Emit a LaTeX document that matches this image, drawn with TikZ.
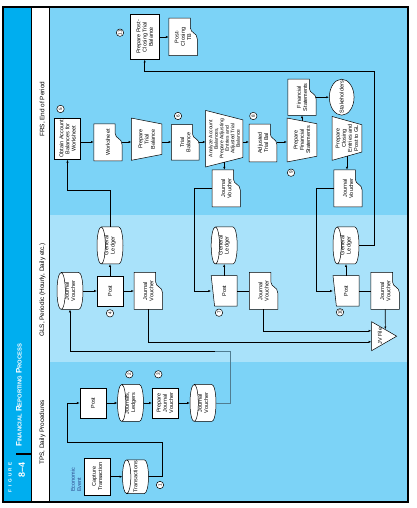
\documentclass[tikz,border=0pt]{standalone}
\usepackage{fontspec}
\setmainfont{Liberation Sans}
\usepackage{xcolor}
\usepackage{tikz}
\usetikzlibrary{calc, arrows.meta, shapes.geometric}

% flowchart symbols built on the rectangle anchors
\makeatletter
\def\flow@corners{%
  \southwest \edef\flow@xa{\the\pgf@x}\edef\flow@ya{\the\pgf@y}%
  \northeast \edef\flow@xb{\the\pgf@x}\edef\flow@yb{\the\pgf@y}}
\def\flowpt#1#2{\pgfpoint{\flow@xa+(#1)*(\flow@xb-(\flow@xa))}{\flow@ya+(#2)*(\flow@yb-(\flow@ya))}}
\def\flow@inset{.14}
\newcommand\flowshape[2]{%
  \pgfdeclareshape{#1}{%
    \inheritsavedanchors[from=rectangle]%
    \inheritanchorborder[from=rectangle]%
    \inheritanchor[from=rectangle]{center}%
    \inheritanchor[from=rectangle]{north}%
    \inheritanchor[from=rectangle]{south}%
    \inheritanchor[from=rectangle]{east}%
    \inheritanchor[from=rectangle]{west}%
    \inheritanchor[from=rectangle]{north east}%
    \inheritanchor[from=rectangle]{north west}%
    \inheritanchor[from=rectangle]{south east}%
    \inheritanchor[from=rectangle]{south west}%
    \backgroundpath{\flow@corners#2}}}
% document: wavy bottom, deep on the left
\flowshape{docshape}{%
  \pgfpathmoveto{\flowpt{0}{0}}%
  \pgfpathlineto{\flowpt{0}{1}}%
  \pgfpathlineto{\flowpt{1}{1}}%
  \pgfpathlineto{\flowpt{1}{.24}}%
  \pgfpathlineto{\flowpt{.74}{.24}}%
  \pgfpathcurveto{\flowpt{.6}{.24}}{\flowpt{.62}{0}}{\flowpt{.45}{0}}%
  \pgfpathclose}
% manual input: top edge rises to the right
\flowshape{inputshape}{%
  \pgfpathmoveto{\flowpt{0}{0}}%
  \pgfpathlineto{\flowpt{0}{.87}}%
  \pgfpathlineto{\flowpt{1}{1}}%
  \pgfpathlineto{\flowpt{1}{0}}%
  \pgfpathclose}
% manual operation: wide top
\flowshape{opshape}{%
  \pgfpathmoveto{\flowpt{0}{1}}%
  \pgfpathlineto{\flowpt{1}{1}}%
  \pgfpathlineto{\flowpt{1-\flow@inset}{0}}%
  \pgfpathlineto{\flowpt{\flow@inset}{0}}%
  \pgfpathclose}
% disk: full ellipse on top
\flowshape{cylshape}{%
  \pgfpathmoveto{\flowpt{0}{.84}}%
  \pgfpathlineto{\flowpt{0}{.16}}%
  \pgfpathcurveto{\flowpt{0}{.0716}}{\flowpt{.2239}{0}}{\flowpt{.5}{0}}%
  \pgfpathcurveto{\flowpt{.7761}{0}}{\flowpt{1}{.0716}}{\flowpt{1}{.16}}%
  \pgfpathlineto{\flowpt{1}{.84}}%
  \pgfpathcurveto{\flowpt{1}{.9284}}{\flowpt{.7761}{1}}{\flowpt{.5}{1}}%
  \pgfpathcurveto{\flowpt{.2239}{1}}{\flowpt{0}{.9284}}{\flowpt{0}{.84}}%
  \pgfpathclose
  \pgfpathmoveto{\flowpt{0}{.84}}%
  \pgfpathcurveto{\flowpt{0}{.7516}}{\flowpt{.2239}{.68}}{\flowpt{.5}{.68}}%
  \pgfpathcurveto{\flowpt{.7761}{.68}}{\flowpt{1}{.7516}}{\flowpt{1}{.84}}}
\tikzset{op inset/.code={\def\flow@inset{#1}}}
\makeatother

\definecolor{stripcyan}{RGB}{0,174,239}
\definecolor{laneblue}{RGB}{124,211,247}
\definecolor{lanelight}{RGB}{169,226,250}
\definecolor{eventblue}{RGB}{40,70,140}
\definecolor{fadeline}{RGB}{80,125,145}

\newcommand\nodefont{\fontsize{5.5}{6.2}\selectfont}
\newcommand\numfont{\fontsize{4.6}{5}\selectfont}
\newcommand\lanefont{\fontsize{6.4}{7}\selectfont}
\newcommand\capsm[1]{{\fontsize{5.8}{6}\selectfont #1}}

\begin{document}
\begin{tikzpicture}[x=1pt, y=1pt, >={Latex[length=2.8pt,width=2.2pt]}]
		\tikzstyle{box} = [draw, fill=white, line width=0.5pt, inner sep=0.5pt, align=center, font=\nodefont, minimum width=30, minimum height=25.5]
		\tikzstyle{doc} = [box, shape=docshape, minimum width=36.5, minimum height=27.7]
		\tikzstyle{disk} = [box, shape=cylshape, minimum width=36.5, minimum height=25.5]
		\tikzstyle{manual} = [box, shape=inputshape]
		\tikzstyle{oper} = [box, shape=opshape, minimum width=43.4, minimum height=29.4]
		\tikzstyle{num} = [draw, fill=white, circle, inner sep=0, minimum size=7.4, line width=0.5pt, font=\numfont]
		\tikzstyle{lane} = [anchor=west, inner sep=0, font=\lanefont]
		\tikzstyle{arrow} = [->, line width=0.6pt]
		\tikzstyle{line} = [line width=0.6pt]
		
		\useasboundingbox (0,0) rectangle (416,508);
		\begin{scope}[shift={(416,0)}, rotate=90, transform shape]
		% header strip and the three lanes
		\fill[stripcyan] (6,385) rectangle (501,413);
		\fill[white] (6,367) rectangle (501,385);
		\fill[laneblue] (6,8) rectangle (146,367);
		\fill[lanelight] (146,8) rectangle (293,367);
		\fill[laneblue] (293,8) rectangle (501,367);
		\draw[line width=0.4pt] (6,385) -- (501,385) (6,367) -- (501,367);
		\draw[line width=1.6pt] (6,8) rectangle (501,413);
		\draw[line width=1.5pt] (54,385) -- (54,400);
		
		\node[anchor=east, inner sep=0, text=white, font=\bfseries\fontsize{4.6}{5}\selectfont] (figword) at (46,406) {F\hspace{2.5pt}I\hspace{2.5pt}G\hspace{2.5pt}U\hspace{2.5pt}R\hspace{2.5pt}E};
		\node[anchor=east, inner sep=0, text=white, font=\bfseries\fontsize{9}{9}\selectfont] (fignum) at (46,394.3) {8--4};
		\node[anchor=west, inner sep=0, text=white, font=\bfseries\fontsize{8}{8}\selectfont] (title) at (61,397) {F\capsm{INANCIAL} R\capsm{EPORTING} P\capsm{ROCESS}};
		
		\node[lane] (tpshead) at (43,373.5) {TPS, Daily Procedures};
		\node[lane] (glshead) at (171,373.5) {GLS, Periodic (Hourly, Daily etc.)};
		\node[lane] (frshead) at (371,373.5) {FRS, End of Period};
		
		% TPS
		\node[anchor=west, align=left, inner sep=0, text=eventblue, font=\nodefont] (event) at (16,340) {Economic\\Event};
		\node[box, minimum width=36.7, minimum height=25.7] (capture) at (31.3,318.8) {Capture\\Transaction};
		\node[disk, minimum width=33.3] (trans) at (31.3,280.5) {Transactions};
		\node[num] (n1) at (23,256) {1};
		\node[box, minimum height=26] (postT) at (105,323) {Post};
		\node[disk] (jl) at (105,285.5) {Journals,\\Ledgers};
		\node[num] (n2) at (133.7,286.7) {2};
		\node[box] (pjv) at (105,251) {Prepare\\Journal\\Voucher};
		\node[num] (n3) at (133.7,257.7) {3};
		\node[disk] (jvT) at (105,213) {Journal\\Voucher};
		
		% GLS
		\node[disk] (jvG) at (217,346) {Journal\\Voucher};
		\node[box] (post4) at (217,306) {Post};
		\node[num] (n4) at (194.7,306) {4};
		\node[disk] (gl1) at (262.5,306) {General\\Ledger};
		\node[doc, minimum height=28] (jv4) at (217,267.7) {Journal\\Voucher};
		\node[manual] (post7) at (217,191.8) {Post};
		\node[num] (n7) at (195.3,197) {7};
		\node[disk] (gl2) at (262.5,191.8) {General\\Ledger};
		\node[doc, minimum height=28] (jv7) at (217,152.5) {Journal\\Voucher};
		\node[manual] (post10) at (217,70) {Post};
		\node[num] (n10) at (195.7,76) {10};
		\node[disk] (gl3) at (262.5,70) {General\\Ledger};
		\node[doc, minimum height=28] (jv10) at (217,30.8) {Journal\\Voucher};
		\node[draw, fill=white, line width=0.5pt, regular polygon, regular polygon sides=3, shape border rotate=180, minimum size=33.4, inner sep=0, font=\nodefont] (jvfile) at (171.8,36) {\makebox[0pt]{JV File}};
		
		% FRS
		\node[num] (n11) at (475.3,296) {11};
		\node[box, minimum width=44.7, minimum height=29.3] (ppc) at (471,271.3) {Prepare Post-\\Closing Trial\\Balance};
		\node[doc, minimum width=37, minimum height=28] (pctb) at (471,233) {Post-\\Closing\\TB};
		\node[num] (n5) at (399,355.5) {5};
		\node[box, line width=0.9pt, minimum width=41, minimum height=26.4] (obtain) at (369.2,348.5) {Obtain Account\\Balances for\\Worksheet};
		\node[doc] (ws) at (365.5,308.1) {Worksheet};
		\node[oper, minimum width=41.7, minimum height=30, op inset=.14] (ptb) at (368.8,269.3) {Prepare\\Trial\\Balance};
		\node[doc, minimum width=35, minimum height=27.3] (tb) at (365.5,230.7) {Trial\\Balance};
		\node[num] (n6) at (392,238) {6};
		\node[oper, minimum width=56, minimum height=36.7, op inset=.167, font=\fontsize{5}{5.5}\selectfont] (anl) at (369.3,191.7) {Analyze Account\\Balances,\\Prepare Adjusting\\Entries and\\Adjusted Trial\\Balance};
		\node[doc, minimum width=37.4, minimum height=27.4] (atb) at (365,153) {Adjusted\\Trial Bal};
		\node[num] (n8) at (392,162.7) {8};
		\node[oper, op inset=.13] (pfs) at (368,114) {Prepare\\Financial\\Statements};
		\node[num] (n9) at (335.3,125) {9};
		\node[doc, minimum width=35.7] (fs) at (410.8,114) {Financial\\Statements};
		\node[draw, fill=white, line width=0.5pt, ellipse, minimum width=36, minimum height=24.7, inner sep=0, font=\nodefont] (stk) at (410.8,74.3) {\makebox[0pt]{Stakeholders}};
		\node[oper, op inset=.19] (pc) at (369.6,69) {Prepare\\Closing\\Entries and\\Post to GL};
		\node[doc] (jvA) at (319.7,189.8) {Journal\\Voucher};
		\node[doc] (jvB) at (319.7,68) {Journal\\Voucher};
		
		% bends of the long connectors
		\coordinate (tpsA) at (65.7,253.5);
		\coordinate (tpsB) at (65.7,348.5);
		\coordinate (tpsC) at (156.7,186);
		\coordinate (tpsD) at (156.7,201);
		\coordinate (frsloop) at (436.3,41.7);
		\coordinate (spine) at (366,0);
		
		% TPS flow
		\draw[arrow] (capture) -- (trans);
		\draw[arrow] (trans.south) |- (tpsA) -- (tpsB) -| (postT.north);
		\draw[arrow] (postT) -- (jl);
		\draw[arrow] (jl) -- (pjv);
		\draw[arrow] (pjv) -- (jvT);
		\draw[arrow] (jvT.south) |- (tpsC) |- (jvG.west);
		\draw[line, fadeline] (jvT.south) |- (tpsC) -- (tpsD);
		
		% GLS flow
		\draw[arrow] (jvG) -- (post4);
		\draw[arrow] (post4) -- (gl1);
		\draw[arrow] (post4) -- (jv4);
		\draw[arrow] (gl1.east) -- ++(36.6,0) |- (obtain.west);
		\draw[arrow] (post7) -- (gl2);
		\draw[line] (post7) -- (jv7);
		\draw[arrow] (post10) -- (gl3);
		\draw[line] (post10) -- (jv10);
		\draw[arrow] (jv4.west) -| ($(jvfile.corner 3)!.31!(jvfile.corner 2)$);
		\draw[arrow] (jv7.west) -| ($(jvfile.corner 3)!.68!(jvfile.corner 2)$);
		\draw[arrow] (jv10.west) -- ($(jvfile.corner 1)!.46!(jvfile.corner 2)$);
		\draw[arrow] (jvA.north) -- ++(0,18) -| (post7.north);
		\draw[arrow] (jvB.north) -- ++(0,17.6) -| (post10.north);
		
		% FRS flow
		\foreach \a/\b in {obtain/ws, ws/ptb, ptb/tb, tb/anl, anl/atb, atb/pfs}
			\draw[arrow] (spine |- \a.south) -- (spine |- \b.north);
		\draw[arrow, shorten <=-2.9pt] (pfs.east) -- (fs.west);
		\draw[arrow] (fs) -- (stk);
		\draw[arrow, shorten <=-4.7pt] (anl.west) -- (anl.west -| jvA.east);
		\draw[arrow, shorten <=-4.1pt] (pc.west) -- (pc.west -| jvB.east);
		\draw[arrow] (ppc) -- (pctb);
		\draw[arrow] (gl3.south) |- (frsloop) |- (ppc.west);
		\end{scope}
	\end{tikzpicture}
\end{document}
